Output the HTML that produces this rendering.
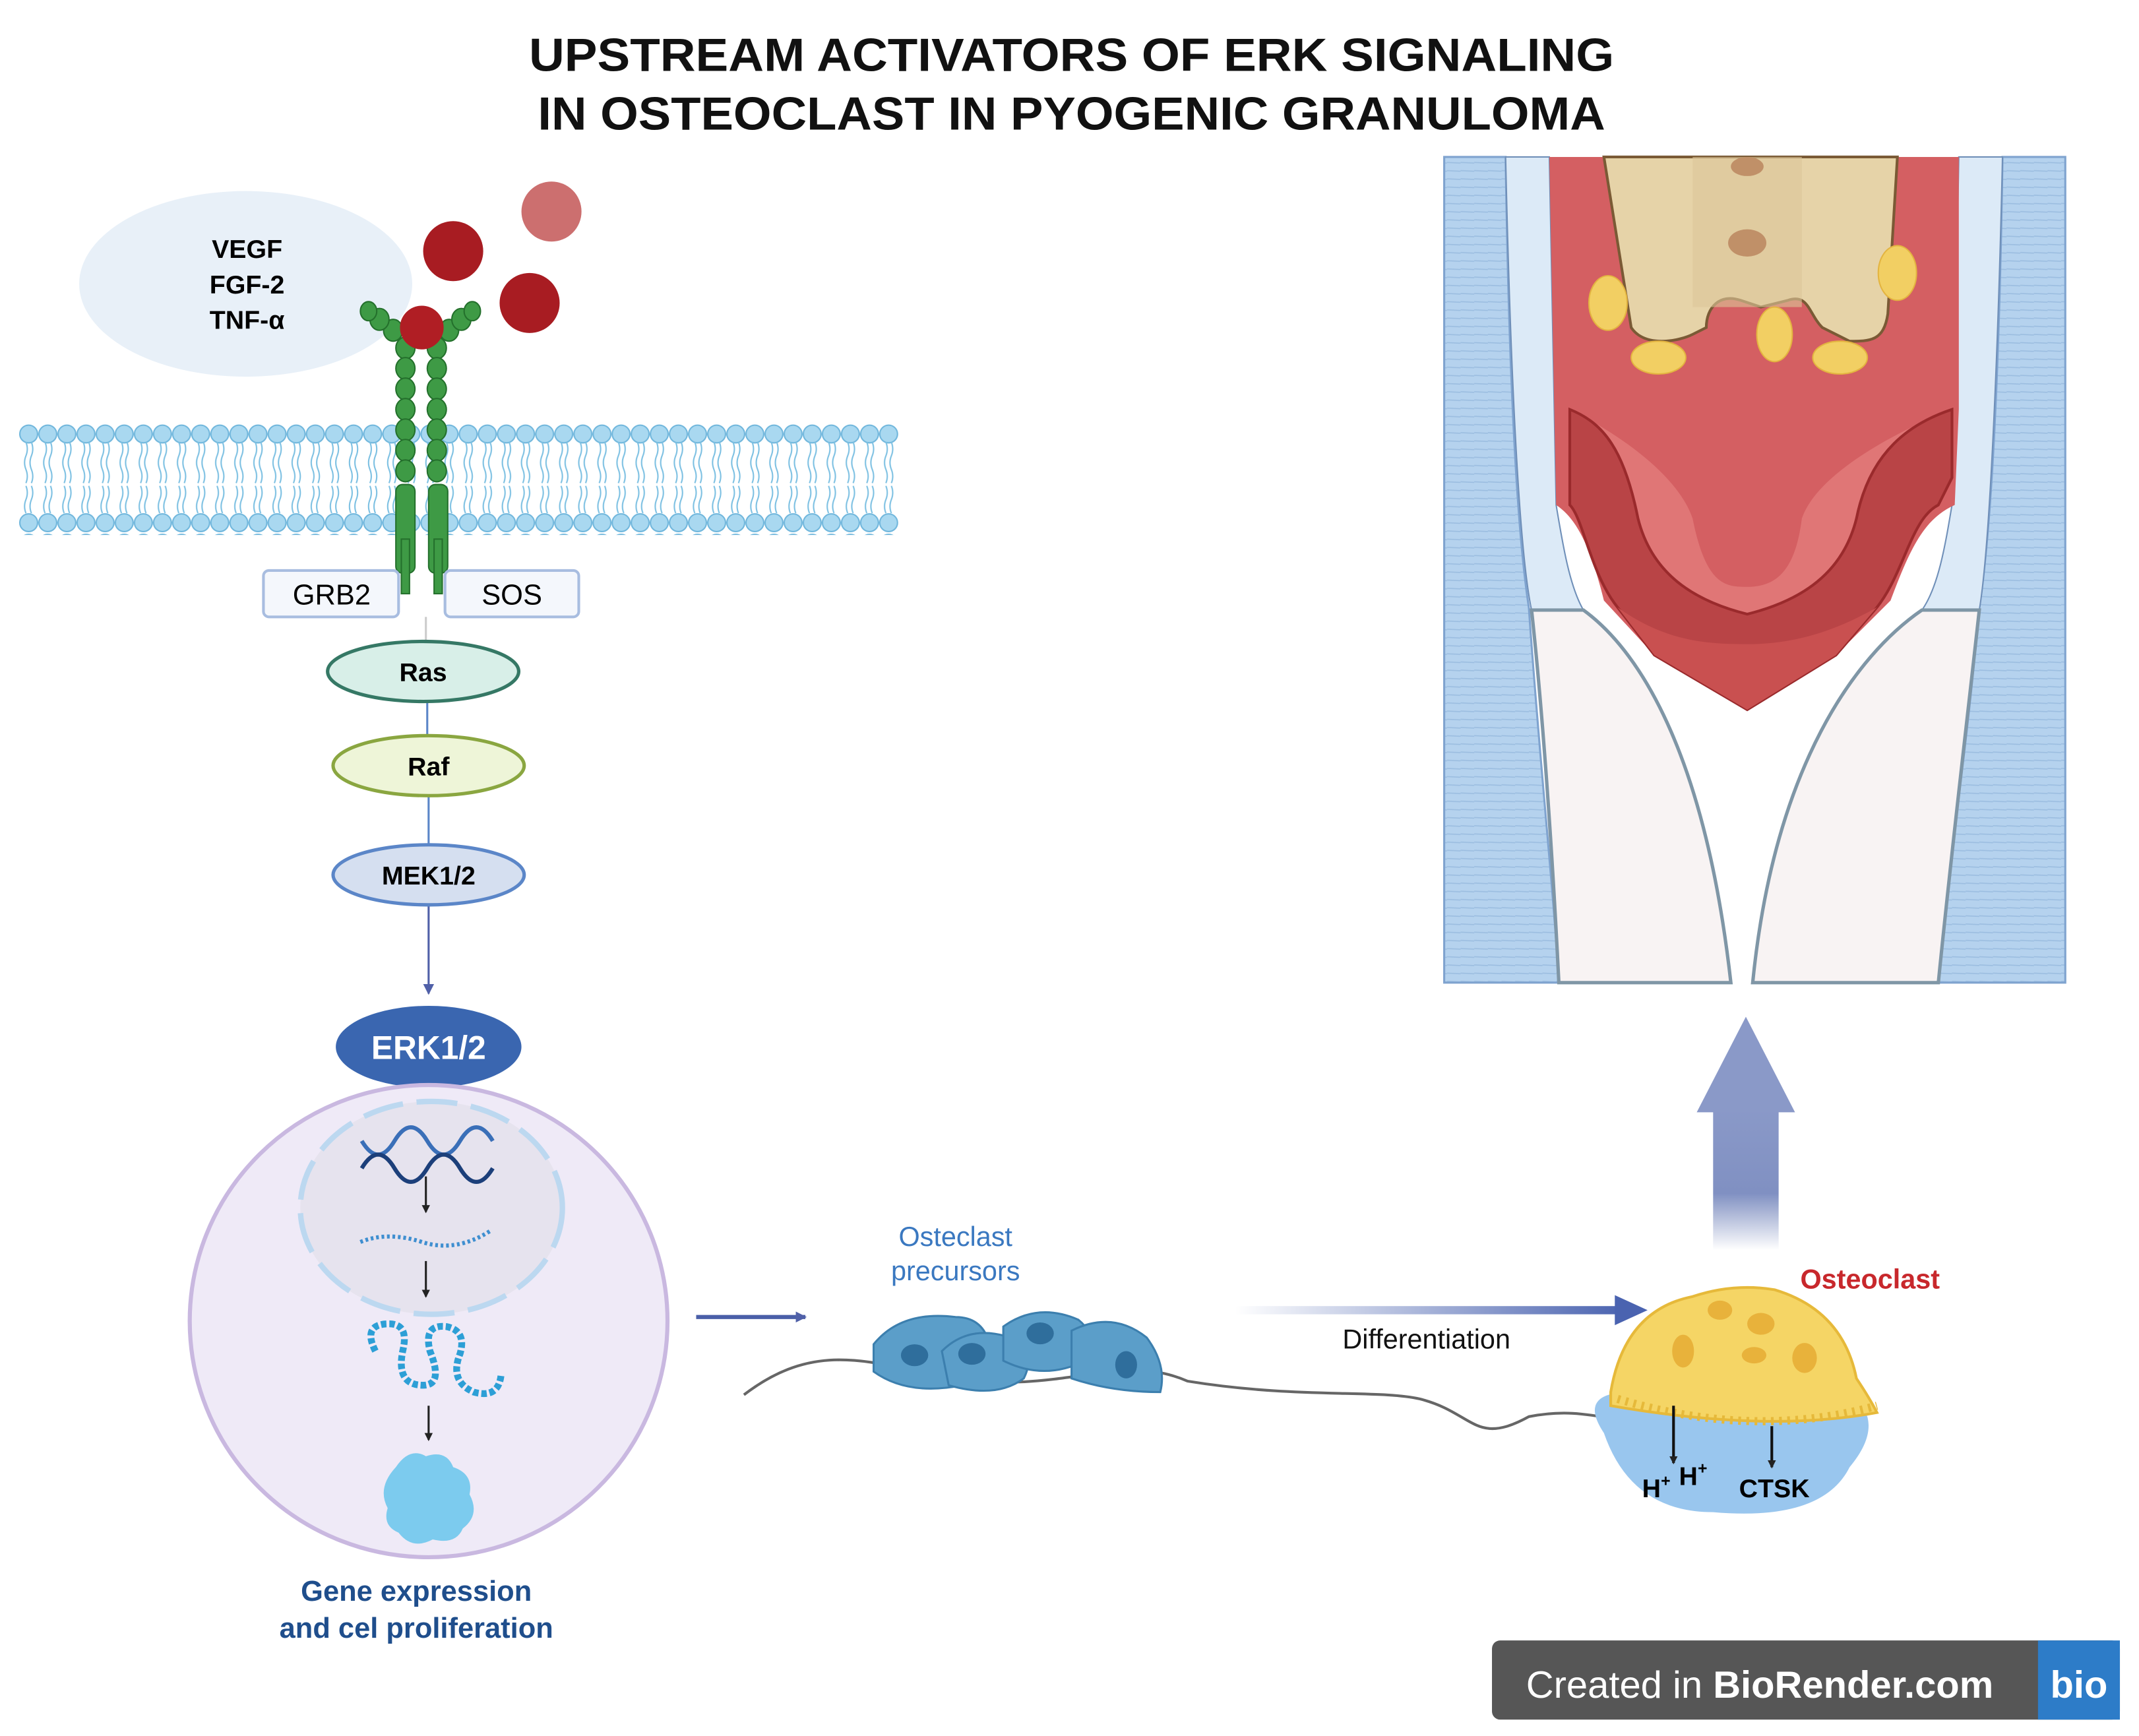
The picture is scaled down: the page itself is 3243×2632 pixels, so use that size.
<!DOCTYPE html>
<html><head><meta charset="utf-8"><style>
html,body{margin:0;padding:0;background:#fff}
svg{display:block}
text{font-family:"Liberation Sans",sans-serif}
</style></head><body>
<svg width="3243" height="2632" viewBox="0 0 1567 1272" preserveAspectRatio="none" xmlns="http://www.w3.org/2000/svg">
<defs>
<pattern id="heads" x="14" y="310" width="14" height="80" patternUnits="userSpaceOnUse">
<circle cx="7" cy="8" r="6.5" fill="#a9d8f0" stroke="#6fb6dc" stroke-width="1"/>
<path d="M5 14 q2 5 0 10 q-2 5 0 10 q2 5 0 10 M9 14 q2 5 0 10 q-2 5 0 10 q2 5 0 10" stroke="#7cc0e2" fill="none" stroke-width="1"/>
<path d="M5 46 q2 5 0 10 q-2 5 0 10 M9 46 q2 5 0 10 q-2 5 0 10" stroke="#7cc0e2" fill="none" stroke-width="1"/>
<circle cx="7" cy="73" r="6.5" fill="#a9d8f0" stroke="#6fb6dc" stroke-width="1"/>
</pattern>
<pattern id="stripe" width="10" height="6" patternUnits="userSpaceOnUse">
<rect width="10" height="6" fill="#b5d2ee"/><line x1="0" y1="5" x2="10" y2="5.5" stroke="#9bbde0" stroke-width="0.8"/>
</pattern>
<linearGradient id="diff" x1="0" x2="1"><stop offset="0" stop-color="#4a63b0" stop-opacity="0"/><stop offset="1" stop-color="#4a63b0"/></linearGradient>
<linearGradient id="up" x1="0" y1="1" x2="0" y2="0"><stop offset="0" stop-color="#7f8fc0" stop-opacity="0"/><stop offset="0.4" stop-color="#8090c2"/><stop offset="1" stop-color="#8a99c8"/></linearGradient>
<marker id="ah" markerWidth="8" markerHeight="8" refX="7" refY="4" orient="auto" markerUnits="userSpaceOnUse"><path d="M0 0L8 4L0 8z" fill="#5060a8"/></marker>
<marker id="ahk" markerWidth="6" markerHeight="6" refX="5" refY="3" orient="auto" markerUnits="userSpaceOnUse"><path d="M0 0L6 3L0 6z" fill="#222"/></marker>
</defs>

<text x="785" y="52" text-anchor="middle" font-weight="bold" font-size="34" textLength="795" lengthAdjust="spacingAndGlyphs" fill="#111">UPSTREAM ACTIVATORS OF ERK SIGNALING</text>
<text x="785" y="95" text-anchor="middle" font-weight="bold" font-size="34" textLength="782" lengthAdjust="spacingAndGlyphs" fill="#111">IN OSTEOCLAST IN PYOGENIC GRANULOMA</text>

<ellipse cx="180" cy="208" rx="122" ry="68" fill="#e8f0f8"/>
<text x="181" y="189" text-anchor="middle" font-weight="bold" font-size="19">VEGF</text>
<text x="181" y="215" text-anchor="middle" font-weight="bold" font-size="19">FGF-2</text>
<text x="181" y="241" text-anchor="middle" font-weight="bold" font-size="19">TNF-α</text>

<rect x="14" y="310" width="644" height="82" fill="url(#heads)"/>

<g fill="#3e9a45" stroke="#24702c" stroke-width="1">
<rect x="290" y="355" width="14" height="65" rx="5"/><rect x="314" y="355" width="14" height="65" rx="5"/>
<rect x="294" y="395" width="6" height="40"/><rect x="318" y="395" width="6" height="40"/>
<ellipse cx="297" cy="255" rx="7" ry="8"/><ellipse cx="297" cy="270" rx="7" ry="8"/><ellipse cx="297" cy="285" rx="7" ry="8"/><ellipse cx="297" cy="300" rx="7" ry="8"/><ellipse cx="297" cy="315" rx="7" ry="8"/><ellipse cx="297" cy="330" rx="7" ry="8"/><ellipse cx="297" cy="345" rx="7" ry="8"/>
<ellipse cx="320" cy="255" rx="7" ry="8"/><ellipse cx="320" cy="270" rx="7" ry="8"/><ellipse cx="320" cy="285" rx="7" ry="8"/><ellipse cx="320" cy="300" rx="7" ry="8"/><ellipse cx="320" cy="315" rx="7" ry="8"/><ellipse cx="320" cy="330" rx="7" ry="8"/><ellipse cx="320" cy="345" rx="7" ry="8"/>
<ellipse cx="288" cy="242" rx="7" ry="8"/><ellipse cx="278" cy="234" rx="7" ry="8"/><ellipse cx="270" cy="228" rx="6" ry="7"/>
<ellipse cx="329" cy="242" rx="7" ry="8"/><ellipse cx="338" cy="234" rx="7" ry="8"/><ellipse cx="346" cy="228" rx="6" ry="7"/>
</g>
<circle cx="309" cy="240" r="16" fill="#b01e24"/>
<circle cx="332" cy="184" r="22" fill="#a81c22"/>
<circle cx="388" cy="222" r="22" fill="#a81c22"/>
<circle cx="404" cy="155" r="22" fill="#cc6f6f"/>

<rect x="193" y="418" width="99" height="34" rx="4" fill="#f4f7fc" stroke="#a8bde0" stroke-width="2"/>
<text x="243" y="443" text-anchor="middle" font-size="21">GRB2</text>
<rect x="326" y="418" width="98" height="34" rx="4" fill="#f4f7fc" stroke="#a8bde0" stroke-width="2"/>
<text x="375" y="443" text-anchor="middle" font-size="21">SOS</text>

<line x1="312" y1="452" x2="312" y2="470" stroke="#ccc" stroke-width="1.5"/>
<line x1="313" y1="514" x2="313" y2="540" stroke="#5b86c8" stroke-width="1.5"/>
<line x1="314" y1="583" x2="314" y2="620" stroke="#5b86c8" stroke-width="1.5"/>
<line x1="314" y1="663" x2="314" y2="728" stroke="#5060a8" stroke-width="1.5" marker-end="url(#ah)"/>
<ellipse cx="310" cy="492" rx="70" ry="22" fill="#d8efe8" stroke="#357865" stroke-width="2.5"/>
<text x="310" y="499" text-anchor="middle" font-weight="bold" font-size="19">Ras</text>
<ellipse cx="314" cy="561" rx="70" ry="22" fill="#eef5d8" stroke="#8aa640" stroke-width="2.5"/>
<text x="314" y="568" text-anchor="middle" font-weight="bold" font-size="19">Raf</text>
<ellipse cx="314" cy="641" rx="70" ry="22" fill="#d5dff0" stroke="#5b86c8" stroke-width="2.5"/>
<text x="314" y="648" text-anchor="middle" font-weight="bold" font-size="19">MEK1/2</text>
<ellipse cx="314" cy="767" rx="68" ry="30" fill="#3a66b0"/>
<text x="314" y="776" text-anchor="middle" font-weight="bold" font-size="24" fill="#fff">ERK1/2</text>

<ellipse cx="314" cy="968" rx="175" ry="173" fill="#efeaf7" stroke="#c9b8e0" stroke-width="3"/>
<ellipse cx="316" cy="885" rx="96" ry="78" fill="#e6e3ee" stroke="#bcd8f0" stroke-width="4" stroke-dasharray="30 10"/>
<path d="M265 836 q12 20 24 0 q12 -20 24 0 q12 20 24 0 q12 -20 24 0" fill="none" stroke="#3a6fb8" stroke-width="3"/>
<path d="M265 856 q12 -20 24 0 q12 20 24 0 q12 -20 24 0 q12 20 24 0" fill="none" stroke="#1c3f7a" stroke-width="3"/>
<line x1="312" y1="862" x2="312" y2="888" stroke="#222" stroke-width="1.5" marker-end="url(#ahk)"/>
<path d="M264 910 q20 -8 45 0 q25 8 50 -8" fill="none" stroke="#3f8fd0" stroke-width="3" stroke-dasharray="2 2"/>
<line x1="312" y1="924" x2="312" y2="950" stroke="#222" stroke-width="1.5" marker-end="url(#ahk)"/>
<path d="M275 990 q-10 -20 10 -20 q15 0 10 20 q-5 25 15 25 q15 0 5 -25 q-5 -20 12 -18 q15 3 10 20 q-8 20 10 28 q18 5 20 -12" fill="none" stroke="#2d9fd6" stroke-width="5" stroke-dasharray="4 2"/>
<line x1="314" y1="1030" x2="314" y2="1055" stroke="#222" stroke-width="1.5" marker-end="url(#ahk)"/>
<path d="M290 1075 q10 -15 22 -8 q15 -5 20 8 q15 5 12 20 q8 15 -5 25 q-5 12 -22 8 q-15 8 -25 -5 q-12 -5 -8 -18 q-8 -15 6 -30z" fill="#7ccbee"/>
<text x="305" y="1173" text-anchor="middle" font-weight="bold" font-size="21" fill="#1f4e8c">Gene expression</text>
<text x="305" y="1200" text-anchor="middle" font-weight="bold" font-size="21" fill="#1f4e8c">and cel proliferation</text>

<line x1="510" y1="965" x2="590" y2="965" stroke="#4a5fa8" stroke-width="3" marker-end="url(#ah)"/>
<path d="M545 1022 C600 980 640 1000 700 1010 C780 1022 820 990 870 1012 C950 1025 1010 1018 1040 1025 C1080 1035 1080 1060 1120 1038 C1150 1032 1170 1038 1185 1040" fill="none" stroke="#666" stroke-width="2"/>
<text x="700" y="913" text-anchor="middle" font-size="20" fill="#3a78c0">Osteclast</text>
<text x="700" y="938" text-anchor="middle" font-size="20" fill="#3a78c0">precursors</text>
<g fill="#5b9ec9" stroke="#3c7fae" stroke-width="1.5">
<path d="M640 985 q20 -25 60 -20 q20 0 25 20 q5 25 -20 30 q-40 8 -65 -10z"/>
<path d="M690 990 q20 -20 50 -10 q20 10 10 30 q-20 15 -55 5z"/>
<path d="M735 972 q25 -18 55 -5 q15 12 5 30 q-30 15 -60 0z"/>
<path d="M785 975 q30 -15 55 5 q15 20 10 40 q-35 0 -65 -10z"/>
</g>
<g fill="#2f6e9c"><ellipse cx="670" cy="993" rx="10" ry="8"/><ellipse cx="712" cy="992" rx="10" ry="8"/><ellipse cx="762" cy="977" rx="10" ry="8"/><ellipse cx="825" cy="1000" rx="8" ry="10"/></g>

<rect x="905" y="957" width="285" height="6" fill="url(#diff)"/>
<path d="M1183 949 L1207 960 L1183 971z" fill="#4a63b0"/>
<text x="1045" y="988" text-anchor="middle" font-size="20" fill="#111">Differentiation</text>

<path d="M1175 1050 q-20 -30 20 -30 q70 -20 165 5 q20 20 -5 50 q-20 40 -100 33 q-60 0 -80 -58z" fill="#99c6ee"/>
<path d="M1180 1020 q10 -60 60 -70 q30 -10 60 -5 q50 15 60 65 q10 15 15 25 q-80 15 -195 -5z" fill="#f5d565" stroke="#e6b93a" stroke-width="2"/>
<path d="M1185 1025 q100 30 190 5" fill="none" stroke="#e6b93a" stroke-width="6" stroke-dasharray="2 4"/>
<g fill="#e8b23b"><ellipse cx="1233" cy="990" rx="8" ry="12"/><ellipse cx="1260" cy="960" rx="9" ry="7"/><ellipse cx="1290" cy="970" rx="10" ry="8"/><ellipse cx="1285" cy="993" rx="9" ry="6"/><ellipse cx="1322" cy="995" rx="9" ry="11"/></g>
<line x1="1226" y1="1030" x2="1226" y2="1072" stroke="#111" stroke-width="2" marker-end="url(#ahk)"/>
<line x1="1298" y1="1045" x2="1298" y2="1075" stroke="#111" stroke-width="2" marker-end="url(#ahk)"/>
<text x="1203" y="1097" font-weight="bold" font-size="19">H<tspan dy="-8" font-size="12">+</tspan></text>
<text x="1230" y="1088" font-weight="bold" font-size="19">H<tspan dy="-8" font-size="12">+</tspan></text>
<text x="1274" y="1097" font-weight="bold" font-size="19">CTSK</text>
<text x="1370" y="944" text-anchor="middle" font-weight="bold" font-size="20" fill="#c8282c">Osteoclast</text>

<rect x="1255" y="812" width="48" height="104" fill="url(#up)"/>
<path d="M1243 815 L1279 745 L1315 815z" fill="#8a99c8"/>

<!-- tooth panel -->
<rect x="1058" y="115" width="455" height="605" fill="#fff"/>
<path d="M1058 115 H1103 C1105 250 1110 380 1120 445 C1128 560 1138 650 1142 720 H1058z" fill="url(#stripe)" stroke="#7fa3cf" stroke-width="1.5"/>
<path d="M1513 115 H1467 C1465 250 1460 380 1450 445 C1440 560 1425 650 1420 720 H1513z" fill="url(#stripe)" stroke="#7fa3cf" stroke-width="1.5"/>
<path d="M1103 115 H1135 L1140 370 C1145 400 1150 430 1160 447 H1122 C1112 400 1106 250 1103 115z" fill="#dceaf7" stroke="#6f8fb8" stroke-width="1"/>
<path d="M1467 115 H1435 L1430 370 C1425 400 1420 430 1408 447 H1450 C1458 400 1464 250 1467 115z" fill="#dceaf7" stroke="#6f8fb8" stroke-width="1"/>
<path d="M1122 447 H1160 C1205 480 1250 560 1268 720 H1142 C1137 620 1130 520 1122 447z" fill="#f8f3f3" stroke="#7f96a6" stroke-width="2.5"/>
<path d="M1450 447 H1408 C1360 480 1300 560 1284 720 H1420 C1430 620 1442 520 1450 447z" fill="#f8f3f3" stroke="#7f96a6" stroke-width="2.5"/>
<path d="M1135 115 H1435 V300 L1432 370 C1410 380 1400 400 1385 440 L1345 480 L1280 520 L1212 480 L1175 440 C1165 400 1155 380 1140 370 Z" fill="#d45f62"/>
<path d="M1150 300 C1190 320 1230 350 1240 380 C1250 430 1265 430 1280 430 C1300 430 1315 420 1320 380 C1330 350 1380 320 1430 300 V350 C1400 370 1390 420 1345 460 L1280 470 L1215 460 C1180 420 1170 370 1150 350z" fill="#e07676"/>
<path d="M1150 300 C1175 310 1190 330 1200 380 C1210 420 1240 440 1280 450 C1320 440 1350 420 1360 380 C1370 330 1400 310 1430 300 V350 L1420 370 C1400 380 1395 420 1375 445 L1345 480 L1280 520 L1212 480 L1185 445 C1165 420 1160 380 1150 370z" fill="#b94446" stroke="#9a2a2c" stroke-width="2"/>
<path d="M1185 445 C1220 470 1250 472 1280 472 C1310 472 1340 465 1375 445 L1345 480 L1280 520 L1212 480z" fill="#c95050"/>
<path d="M1175 115 H1390 L1383 230 C1380 250 1370 250 1355 250 L1335 240 C1325 230 1325 215 1310 220 L1290 225 L1275 220 C1260 215 1250 225 1250 240 L1240 245 C1230 250 1205 255 1195 240 Z" fill="#e6d3a8" stroke="#7a5a35" stroke-width="2"/>
<rect x="1240" y="115" width="80" height="110" fill="#dcc69a" opacity="0.6"/>
<ellipse cx="1280" cy="122" rx="12" ry="7" fill="#c09068"/>
<ellipse cx="1280" cy="178" rx="14" ry="10" fill="#c09068"/>
<g fill="#f2cf63" stroke="#e3b440" stroke-width="1">
<ellipse cx="1178" cy="222" rx="14" ry="20"/><ellipse cx="1215" cy="262" rx="20" ry="12"/><ellipse cx="1300" cy="245" rx="13" ry="20"/><ellipse cx="1348" cy="262" rx="20" ry="12"/><ellipse cx="1390" cy="200" rx="14" ry="20"/>
</g>

<rect x="1093" y="1202" width="460" height="58" rx="6" fill="#565656"/>
<rect x="1493" y="1202" width="60" height="58" fill="#2d7cc8"/>
<text x="1118" y="1244" font-size="28" fill="#fff">Created in <tspan font-weight="bold">BioRender.com</tspan></text>
<text x="1523" y="1244" text-anchor="middle" font-weight="bold" font-size="28" fill="#fff">bio</text>
</svg>
</body></html>
